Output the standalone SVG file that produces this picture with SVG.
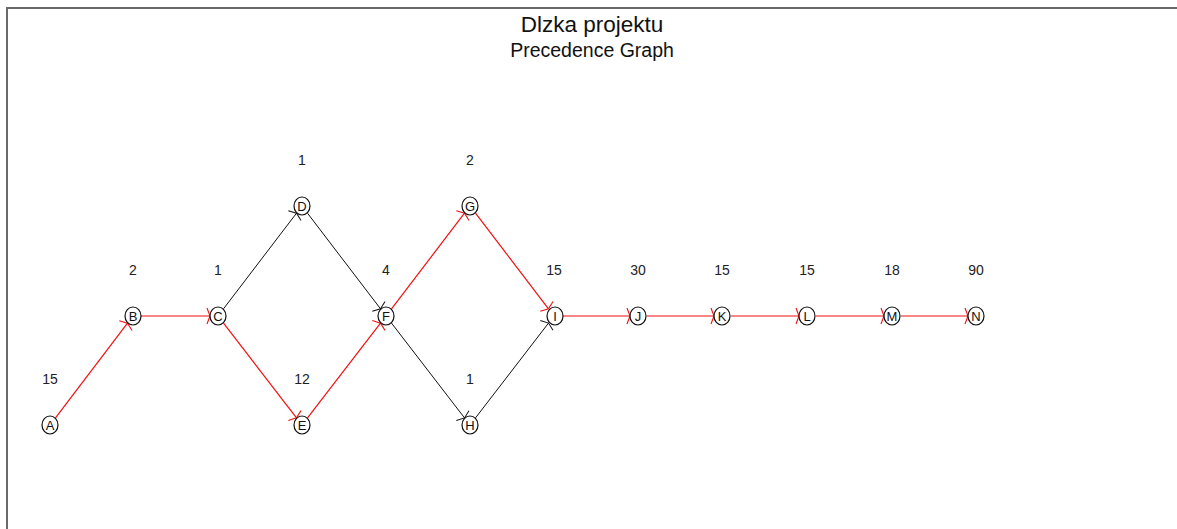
<svg xmlns="http://www.w3.org/2000/svg" width="1177" height="529" viewBox="0 0 1177 529">
  <style>
    .title { font-family: "Liberation Sans", Arial, sans-serif; font-size: 22.5px; fill: #111; text-anchor: middle; }
    .sub { font-family: "Liberation Sans", Arial, sans-serif; font-size: 19.5px; fill: #111; text-anchor: middle; }
    .dur { font-family: "Liberation Sans", Arial, sans-serif; font-size: 14px; fill: #222; text-anchor: middle; }
    .node ellipse { fill: #fff; stroke: #111; stroke-width: 1.2; }
    .node text { font-family: "Liberation Sans", Arial, sans-serif; font-size: 13px; fill: #111; text-anchor: middle; }
    .crit { stroke: #f01010; stroke-width: 1.2; fill: none; }
    .norm { stroke: #111; stroke-width: 1; fill: none; }
  </style>
  <defs>
    <marker id="headRed" markerUnits="userSpaceOnUse" orient="auto" refX="0" refY="0" markerWidth="20" markerHeight="20" viewBox="-10 -10 20 20" overflow="visible">
      <path d="M-3,-8 L0,0 L-3,8" fill="none" stroke="#f01010" stroke-width="1.1"/>
    </marker>
    <marker id="headBlack" markerUnits="userSpaceOnUse" orient="auto" refX="0" refY="0" markerWidth="20" markerHeight="20" viewBox="-10 -10 20 20" overflow="visible">
      <path d="M-3,-8 L0,0 L-3,8" fill="none" stroke="#111" stroke-width="1"/>
    </marker>
  </defs>

  <rect width="1177" height="529" fill="#fff"/>
  <!-- frame -->
  <path d="M7,529 V8 H1177" fill="none" stroke="#6a6a6a" stroke-width="2"/>

  <text class="title" x="592" y="32">Dlzka projektu</text>
  <text class="sub" x="592" y="57">Precedence Graph</text>

  <!-- connectors -->
  <g id="edges">
    <line class="norm" x1="223.5" y1="308.8" x2="296.5" y2="213.2" marker-end="url(#headBlack)"/>
    <line class="norm" x1="307.5" y1="213.2" x2="380.5" y2="308.8" marker-end="url(#headBlack)"/>
    <line class="norm" x1="391.5" y1="323.1" x2="464.5" y2="417.9" marker-end="url(#headBlack)"/>
    <line class="norm" x1="475.5" y1="417.9" x2="548.5" y2="323.1" marker-end="url(#headBlack)"/>
    <line class="crit" x1="55.5" y1="417.8" x2="127.5" y2="323.2" marker-end="url(#headRed)"/>
    <line class="crit" x1="141" y1="316" x2="210" y2="316" marker-end="url(#headRed)"/>
    <line class="crit" x1="223.5" y1="323.1" x2="296.5" y2="417.9" marker-end="url(#headRed)"/>
    <line class="crit" x1="307.5" y1="417.9" x2="380.5" y2="323.1" marker-end="url(#headRed)"/>
    <line class="crit" x1="391.5" y1="308.8" x2="464.5" y2="213.2" marker-end="url(#headRed)"/>
    <line class="crit" x1="475.5" y1="213.2" x2="548.5" y2="308.8" marker-end="url(#headRed)"/>
    <line class="crit" x1="563" y1="316" x2="630" y2="316" marker-end="url(#headRed)"/>
    <line class="crit" x1="647" y1="316" x2="714" y2="316" marker-end="url(#headRed)"/>
    <line class="crit" x1="731" y1="316" x2="799" y2="316" marker-end="url(#headRed)"/>
    <line class="crit" x1="816" y1="316" x2="884" y2="316" marker-end="url(#headRed)"/>
    <line class="crit" x1="901" y1="316" x2="968" y2="316" marker-end="url(#headRed)"/>
  </g>

  <!-- activity durations -->
  <g id="durations">
    <text class="dur" x="50" y="384">15</text>
    <text class="dur" x="133" y="275">2</text>
    <text class="dur" x="218" y="275">1</text>
    <text class="dur" x="302" y="165">1</text>
    <text class="dur" x="302" y="384">12</text>
    <text class="dur" x="386" y="275">4</text>
    <text class="dur" x="470" y="165">2</text>
    <text class="dur" x="470" y="384">1</text>
    <text class="dur" x="554" y="275">15</text>
    <text class="dur" x="638" y="275">30</text>
    <text class="dur" x="722" y="275">15</text>
    <text class="dur" x="807" y="275">15</text>
    <text class="dur" x="892" y="275">18</text>
    <text class="dur" x="976" y="275">90</text>
  </g>

  <!-- activities -->
  <g id="A" class="node"><ellipse cx="50" cy="425" rx="8" ry="9"/><text x="50" y="430">A</text></g>
  <g id="B" class="node"><ellipse cx="133" cy="316" rx="8" ry="9"/><text x="133" y="321">B</text></g>
  <g id="C" class="node"><ellipse cx="218" cy="316" rx="8" ry="9"/><text x="218" y="321">C</text></g>
  <g id="D" class="node"><ellipse cx="302" cy="206" rx="8" ry="9"/><text x="302" y="211">D</text></g>
  <g id="E" class="node"><ellipse cx="302" cy="425" rx="8" ry="9"/><text x="302" y="430">E</text></g>
  <g id="F" class="node"><ellipse cx="386" cy="316" rx="8" ry="9"/><text x="386" y="321">F</text></g>
  <g id="G" class="node"><ellipse cx="470" cy="206" rx="8" ry="9"/><text x="470" y="211">G</text></g>
  <g id="H" class="node"><ellipse cx="470" cy="425" rx="8" ry="9"/><text x="470" y="430">H</text></g>
  <g id="I" class="node"><ellipse cx="555" cy="316" rx="8" ry="9"/><text x="555" y="321">I</text></g>
  <g id="J" class="node"><ellipse cx="638" cy="316" rx="8" ry="9"/><text x="638" y="321">J</text></g>
  <g id="K" class="node"><ellipse cx="722" cy="316" rx="8" ry="9"/><text x="722" y="321">K</text></g>
  <g id="L" class="node"><ellipse cx="807" cy="316" rx="8" ry="9"/><text x="807" y="321">L</text></g>
  <g id="M" class="node"><ellipse cx="892" cy="316" rx="8" ry="9"/><text x="892" y="321">M</text></g>
  <g id="N" class="node"><ellipse cx="976" cy="316" rx="8" ry="9"/><text x="976" y="321">N</text></g>
</svg>
